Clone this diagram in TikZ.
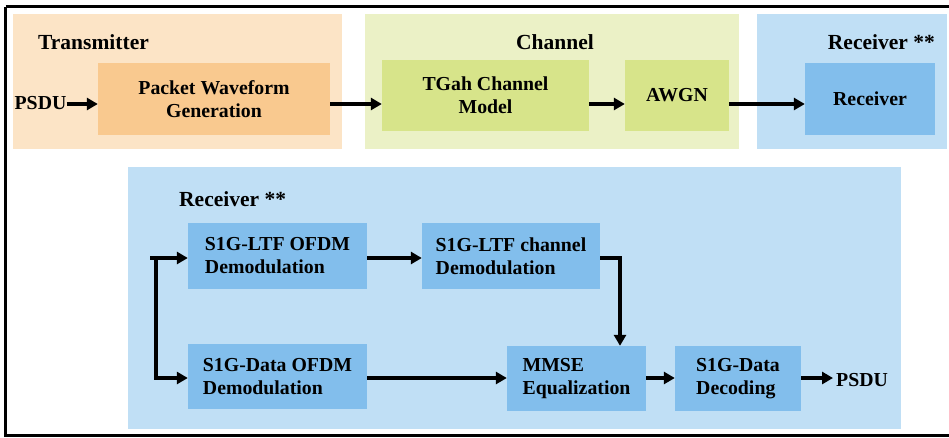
\documentclass[tikz,border=0pt]{standalone}
\usepackage{fontspec}
\setmainfont{Liberation Serif}
\usetikzlibrary{arrows.meta}
\definecolor{txpanel}{RGB}{252,228,198}
\definecolor{txbox}{RGB}{249,201,143}
\definecolor{chpanel}{RGB}{235,241,198}
\definecolor{chbox}{RGB}{215,228,138}
\definecolor{rxpanel}{RGB}{192,223,245}
\definecolor{rxbox}{RGB}{130,190,236}
\tikzset{
  panel/.style={draw=none, anchor=north west, inner sep=0pt},
  blk/.style={draw=none, inner sep=0pt, font=\fontsize{19.8}{23}\selectfont\bfseries, align=center},
  blkl/.style={blk, align=left},
  lbl/.style={inner sep=0pt, font=\fontsize{21.5}{25}\selectfont\bfseries},
  txt/.style={inner sep=0pt, font=\fontsize{19.8}{23}\selectfont\bfseries},
  arr/.style={line width=3.6pt, -{Triangle[length=11pt,width=12pt]}}
}
\begin{document}
\begin{tikzpicture}[x=1pt,y=-1pt]
\useasboundingbox (0,0) rectangle (949,437);
\fill[white] (0,0) rectangle (949,437);
% outer frame
\draw[line width=3pt] (5.5,6.5) -- (960,6.5);
\draw[line width=3pt] (5.5,6.5) -- (5.5,435.5) -- (960,435.5);
% panels
\node[panel, fill=txpanel, minimum width=329pt, minimum height=135pt] (tx) at (13,14) {};
\node[panel, fill=chpanel, minimum width=374pt, minimum height=135pt] (ch) at (365,14) {};
\node[panel, fill=rxpanel, minimum width=190pt, minimum height=135pt] (rxp) at (757,14) {};
\node[panel, fill=rxpanel, minimum width=773pt, minimum height=262pt] (rxl) at (128,167) {};
% panel labels
\node[lbl, anchor=west] (ltx) at (38,42) {Transmitter};
\node[lbl] (lch) at (555,42) {Channel};
\node[lbl, anchor=east] (lrx) at (935,42) {Receiver **};
\node[lbl, anchor=west] (lrx2) at (179,199) {Receiver **};
% top blocks
\node[blk, fill=txbox, minimum width=232pt, minimum height=72pt] (pwg) at (214,99) {Packet Waveform\\Generation};
\node[blk, fill=chbox, minimum width=207pt, minimum height=71pt] (tgah) at (485.5,95.5) {TGah Channel\\Model};
\node[blk, fill=chbox, minimum width=104pt, minimum height=71pt] (awgn) at (677,95.5) {AWGN};
\node[blk, fill=rxbox, minimum width=130pt, minimum height=72pt] (rx) at (870,99) {Receiver};
\node[txt] (psdu) at (40.5,103) {PSDU};
% bottom blocks
\node[blkl, fill=rxbox, minimum width=179pt, minimum height=66pt] (ltfo) at (277.5,256) {S1G-LTF OFDM\\Demodulation};
\node[blkl, fill=rxbox, minimum width=178pt, minimum height=66pt] (ltfc) at (511,256) {S1G-LTF channel\\Demodulation};
\node[blkl, fill=rxbox, minimum width=179pt, minimum height=65pt] (dato) at (277.5,376.5) {S1G-Data OFDM\\Demodulation};
\node[blkl, fill=rxbox, minimum width=139pt, minimum height=65pt] (mmse) at (576.5,378.5) {MMSE\\Equalization};
\node[blkl, fill=rxbox, minimum width=126pt, minimum height=65pt] (dec) at (738,378.5) {S1G-Data\\Decoding};
\node[txt] (psduo) at (862,380) {PSDU};
% row coordinates
\coordinate (r1) at (0,104);
\coordinate (r2) at (0,258);
\coordinate (r3) at (0,378);
\coordinate (cd) at (620,258);
\coordinate (s1) at (150,258);
\coordinate (s2) at (156,258);
\coordinate (s3) at (156,378);
\coordinate (po) at (833,378);
% top arrows
\draw[arr] (psdu.east |- r1) -- (pwg.west |- r1);
\draw[arr] (pwg.east |- r1) -- (tgah.west |- r1);
\draw[arr] (tgah.east |- r1) -- (awgn.west |- r1);
\draw[arr] (awgn.east |- r1) -- (rx.west |- r1);
% bottom arrows
\draw[arr] (s1) -- (ltfo.west |- r2);
\draw[arr] (s2) -- (s3) -- (dato.west |- r3);
\draw[arr] (ltfo.east |- r2) -- (ltfc.west |- r2);
\draw[arr] (ltfc.east |- r2) -- (cd) -- (cd |- mmse.north);
\draw[arr] (dato.east |- r3) -- (mmse.west |- r3);
\draw[arr] (mmse.east |- r3) -- (dec.west |- r3);
\draw[arr] (dec.east |- r3) -- (po);
\end{tikzpicture}
\end{document}
